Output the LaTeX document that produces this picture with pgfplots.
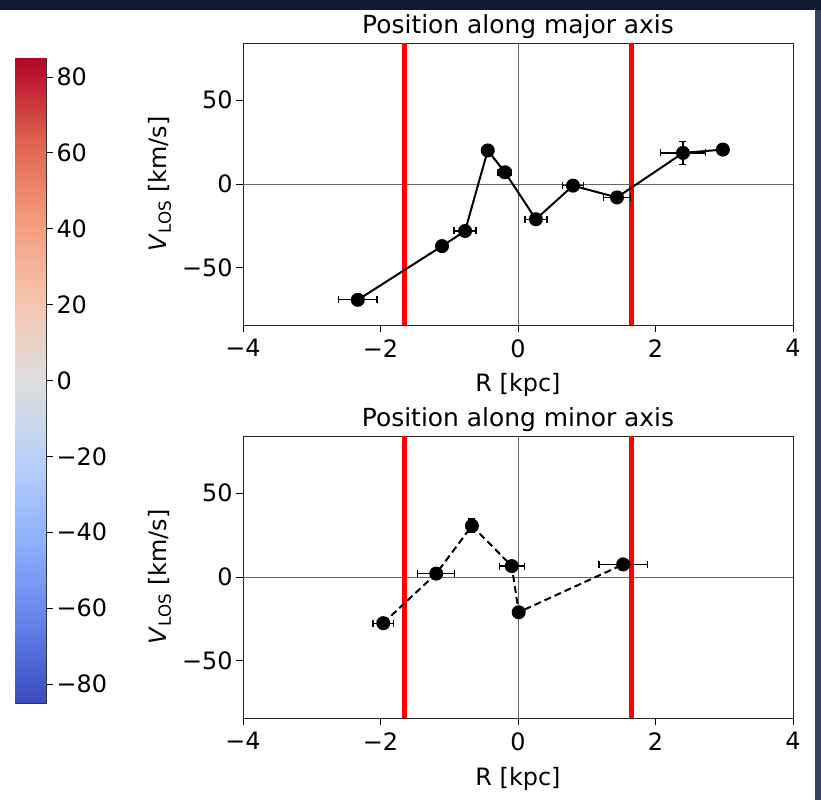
\documentclass[border=0pt]{standalone}
\usepackage{pgfplots}
\pgfplotsset{compat=1.18}
\usepackage{fontspec}
\setmainfont{DejaVu Sans}
\definecolor{navyframe}{RGB}{14,26,46}
\definecolor{rightframe}{RGB}{55,66,92}
\pgfplotsset{
  colormap={coolwarm}{rgb255=(59,76,192) rgb255=(98,130,234) rgb255=(141,176,254) rgb255=(184,208,249) rgb255=(221,221,221) rgb255=(245,196,173) rgb255=(244,154,123) rgb255=(222,96,77) rgb255=(180,4,38)},
  panel/.style={
    scale only axis, width=550bp, height=282bp,
    xmin=-4, xmax=4, ymin=-84, ymax=84,
    xtick={-4,-2,0,2,4}, xticklabels={−4,−2,0,2,4},
    ytick={-50,0,50}, yticklabels={−50,0,50},
    xtick pos=left, ytick pos=left,
    tick align=outside, major tick length=7bp,
    axis line style={black!85, line width=0.9bp},
    tick style={black, line width=0.9bp},
    tick label style={font=\fontsize{24}{28}\selectfont},
    xticklabel style={yshift=-4bp},
    label style={font=\fontsize{24}{28}\selectfont},
    title style={font=\fontsize{25}{29}\selectfont, at={(axis description cs:0.5,1)}, anchor=base, yshift=4bp},
    xlabel={R [kpc]},
    xlabel style={at={(axis description cs:0.5,0)}, anchor=base, yshift=-67bp},
    ylabel={\textit{V}\textsubscript{LOS} [km/s]},
    ylabel style={at={(axis description cs:-0.151,0.5)}, anchor=center},
    clip=true,
  },
  errstyle/.style={
    error bars/.cd, x dir=both, x explicit, y dir=both, y explicit,
    error bar style={black, line width=1.3bp, solid},
    error mark options={black, rotate=90, mark size=3.5bp, line width=1.3bp, solid},
  },
}
\begin{document}
\begin{tikzpicture}
\fill[navyframe] (0bp,0bp) rectangle (821bp,800bp);
\fill[rightframe] (815bp,0bp) rectangle (821bp,790bp);
\fill[white] (0bp,0bp) rectangle (815bp,790bp);

% colorbar
\begin{axis}[at={(15bp,97bp)}, anchor=south west, scale only axis,
  width=31bp, height=645bp, xmin=0, xmax=1, ymin=-85, ymax=85,
  xtick=\empty, ytick={-80,-60,-40,-20,0,20,40,60,80},
  yticklabels={−80,−60,−40,−20,0,20,40,60,80},
  ytick pos=right, yticklabel pos=right, tick align=outside, major tick length=7bp,
  axis line style={black!80, line width=0.8bp},
  tick style={black, line width=0.9bp},
  tick label style={font=\fontsize{24}{28}\selectfont},
  colormap name=coolwarm, point meta min=-85, point meta max=85]
\addplot[surf, shader=interp, point meta=y, mesh/cols=2] coordinates {(0,-85) (1,-85) (0,85) (1,85)};
\end{axis}

% top panel
\begin{axis}[panel, at={(243bp,475bp)}, anchor=south west, title={Position along major axis}]
\addplot[black!60, line width=0.9bp] coordinates {(-4,0) (4,0)};
\addplot[black!60, line width=0.9bp] coordinates {(0,-84) (0,84)};
\addplot[red, line width=5bp] coordinates {(-1.65,-84) (-1.65,84)};
\addplot[red, line width=5bp] coordinates {(1.65,-84) (1.65,84)};
\addplot[black, line width=2bp, mark=*, mark size=6bp, mark options={solid}, errstyle] coordinates {
(-2.33,-69) +- (0.28,3)
(-1.105,-37) +- (0,2)
(-0.77,-28) +- (0.16,2)
(-0.44,20) +- (0,1)
(-0.19,7) +- (0.10,2)
(0.26,-21) +- (0.16,2)
(0.80,-1) +- (0.15,1)
(1.44,-8) +- (0.2,1)
(2.40,18.5) +- (0.33,7)
(2.98,20.5) +- (0,1)
};
\end{axis}

% bottom panel
\begin{axis}[panel, at={(243bp,82bp)}, anchor=south west, title={Position along minor axis}]
\addplot[black!60, line width=0.9bp] coordinates {(-4,0) (4,0)};
\addplot[black!60, line width=0.9bp] coordinates {(0,-84) (0,84)};
\addplot[red, line width=5bp] coordinates {(-1.65,-84) (-1.65,84)};
\addplot[red, line width=5bp] coordinates {(1.65,-84) (1.65,84)};
\addplot[black, line width=2bp, dash pattern=on 7bp off 4bp, mark=*, mark size=6bp, mark options={solid}, errstyle] coordinates {
(-1.96,-27.5) +- (0.15,2)
(-1.19,2) +- (0.27,1)
(-0.67,30.5) +- (0.05,4)
(-0.09,6.5) +- (0.18,1)
(0.01,-21) +- (0,1)
(1.53,7.5) +- (0.35,1)
};
\end{axis}
\end{tikzpicture}
\end{document}
